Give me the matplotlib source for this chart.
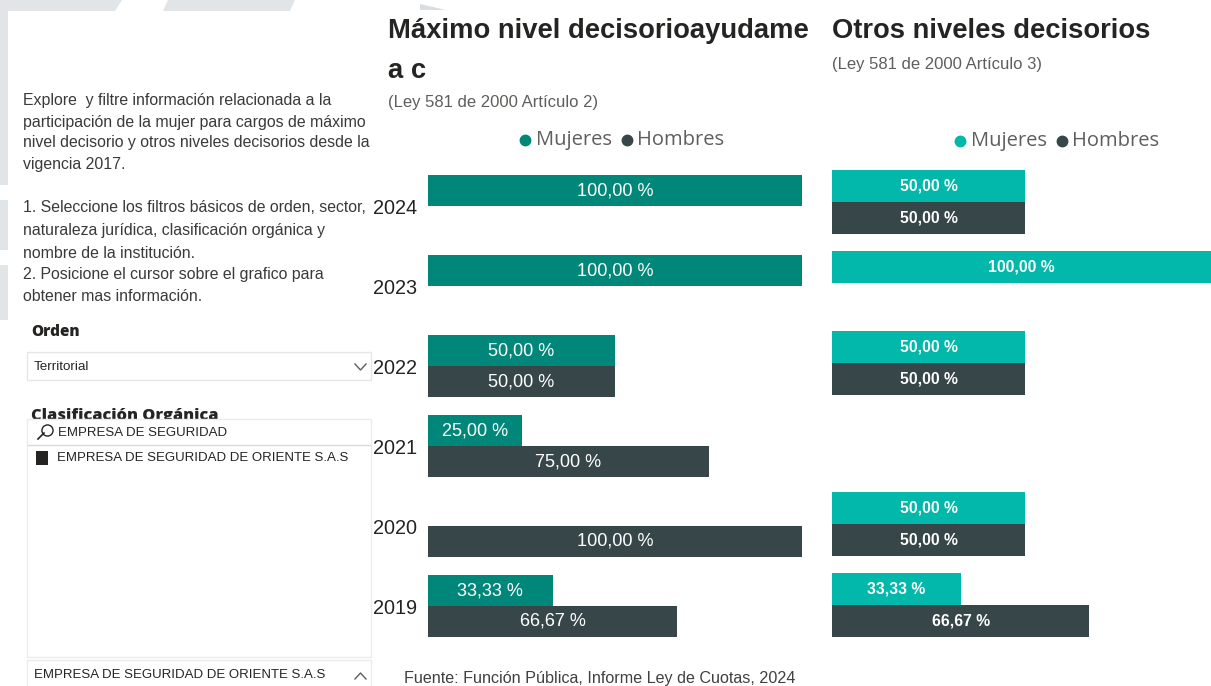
import matplotlib
matplotlib.use("Agg")
import matplotlib.pyplot as plt
from matplotlib.patches import Rectangle, Polygon
from matplotlib.lines import Line2D

W, H = 1211, 686

years = ["2024", "2023", "2022", "2021", "2020", "2019"]
max_mujeres = [100, 100, 50, 25, 0, 33.33]
max_hombres = [0, 0, 50, 75, 100, 66.67]
otros_mujeres = [50, 100, 50, 0, 50, 33.33]
otros_hombres = [50, 0, 50, 0, 50, 66.67]

teal_dark = "#01877A"
teal = "#01B8AA"
dark = "#374649"
txt = "#252423"
grey = "#605E5C"

ARIAL = ["Liberation Sans", "DejaVu Sans"]
SEGOE = ["Open Sans", "Noto Sans", "DejaVu Sans"]


def fx(x):
    return x / W


def fy(y):
    return 1 - y / H


def fmt(v):
    return f"{v:.2f}".replace(".", ",") + " %"


def dot(x, y, color, size, **kw):
    fig.lines.append(Line2D([fx(x)], [fy(y)], transform=fig.transFigure, marker="o",
                            markersize=size, color=color, linestyle="none", **kw))


fig = plt.figure(figsize=(W / 100, H / 100), dpi=100)
fig.patch.set_facecolor("white")

# background decoration (grey shapes behind the report canvas)
bg = "#E2E5E7"
for pts in [
    [(0, 0), (122, 0), (115, 11), (0, 11)],
    [(168, 0), (295, 0), (290, 11), (163, 11)],
    [(0, 0), (8, 0), (8, 185), (0, 185)],
    [(0, 200), (8, 200), (8, 250), (0, 250)],
    [(0, 265), (8, 265), (8, 320), (0, 320)],
]:
    fig.patches.append(Polygon([(fx(a), fy(b)) for a, b in pts], closed=True,
                               transform=fig.transFigure, facecolor=bg,
                               edgecolor="none", zorder=0))
fig.patches.append(Polygon([(fx(420), fy(4)), (fx(446), fy(10)), (fx(420), fy(10))],
                           closed=True, transform=fig.transFigure,
                           facecolor="#DADDDF", edgecolor="none", zorder=0))

# left description text
para = [
    (101, "Explore  y filtre información relacionada a la"),
    (122, "participación de la mujer para cargos de máximo"),
    (143, "nivel decisorio y otros niveles decisorios desde la"),
    (164, "vigencia 2017."),
    (208, "1. Seleccione los filtros básicos de orden, sector,"),
    (230, "naturaleza jurídica, clasificación orgánica y"),
    (253, "nombre de la institución."),
    (275, "2. Posicione el cursor sobre el grafico para"),
    (297, "obtener mas información."),
]
for y, s in para:
    fig.text(fx(23), fy(y), s, family=ARIAL, fontsize=11.4, color="#3B3A39",
             va="center", ha="left")

# slicers
fig.text(fx(31), fy(332), "Orden", family=SEGOE, fontsize=11, weight="heavy",
         color=txt, va="center")
fig.patches.append(Rectangle((fx(27), fy(380)), fx(344), 28 / H, transform=fig.transFigure,
                             facecolor="white", edgecolor="#E6E6E6", lw=1, zorder=1))
fig.text(fx(34), fy(367), "Territorial", family=ARIAL, fontsize=9.6, color=txt, va="center")
fig.lines.append(Line2D([fx(355), fx(360.5), fx(366)], [fy(364), fy(370), fy(364)],
                        transform=fig.transFigure, color="#605E5C", lw=1))

fig.text(fx(31), fy(420), "Clasificación Orgánica", family=SEGOE, fontsize=11.8,
         weight="heavy", color=txt, va="baseline", zorder=1)
fig.patches.append(Rectangle((fx(27), fy(657)), fx(344), 238 / H, transform=fig.transFigure,
                             facecolor="white", edgecolor="#EBEBEB", lw=1, zorder=2))
fig.lines.append(Line2D([fx(28), fx(370)], [fy(445), fy(445)], transform=fig.transFigure,
                        color="#DADADA", lw=1, zorder=3))
dot(47, 430, "none", 8, markeredgecolor=txt, markeredgewidth=1, zorder=3)
fig.lines.append(Line2D([fx(44), fx(38)], [fy(433), fy(439)], transform=fig.transFigure,
                        color=txt, lw=1.2, zorder=3))
fig.text(fx(58), fy(433), "EMPRESA DE SEGURIDAD", family=ARIAL, fontsize=9.5,
         color=txt, va="center", zorder=3)
fig.patches.append(Rectangle((fx(36), fy(465)), fx(12), 14 / H, transform=fig.transFigure,
                             facecolor=txt, edgecolor="none", zorder=3))
fig.text(fx(57), fy(458), "EMPRESA DE SEGURIDAD DE ORIENTE S.A.S", family=ARIAL,
         fontsize=9.5, color=txt, va="center", zorder=3)
fig.patches.append(Rectangle((fx(27), fy(690)), fx(344), 30 / H, transform=fig.transFigure,
                             facecolor="white", edgecolor="#EBEBEB", lw=1, zorder=2))
fig.text(fx(34), fy(675), "EMPRESA DE SEGURIDAD DE ORIENTE S.A.S", family=ARIAL,
         fontsize=9.5, color=txt, va="center", zorder=3)
fig.lines.append(Line2D([fx(355), fx(360.5), fx(366)], [fy(679), fy(673), fy(679)],
                        transform=fig.transFigure, color="#605E5C", lw=1, zorder=3))

# titles
fig.text(fx(388), fy(31), "Máximo nivel decisorioayudame", family=ARIAL, fontsize=19.7,
         weight="bold", color=txt, va="center")
fig.text(fx(388), fy(71), "a c", family=ARIAL, fontsize=19.7, weight="bold",
         color=txt, va="center")
fig.text(fx(388), fy(103), "(Ley 581 de 2000 Artículo 2)", family=ARIAL, fontsize=12,
         color=grey, va="center")
fig.text(fx(832), fy(31), "Otros niveles decisorios", family=ARIAL, fontsize=19.7,
         weight="bold", color=txt, va="center")
fig.text(fx(832), fy(64), "(Ley 581 de 2000 Artículo 3)", family=ARIAL, fontsize=12,
         color=grey, va="center")


def legend(x0, y, c_m):
    dot(x0, y, c_m, 7.5)
    fig.text(fx(x0 + 11), fy(y), "Mujeres", family=SEGOE, fontsize=14.5, color=grey,
             va="center")
    dot(x0 + 102, y, dark, 7.5)
    fig.text(fx(x0 + 112), fy(y), "Hombres", family=SEGOE, fontsize=14.5, color=grey,
             va="center")


legend(525, 140, teal_dark)
legend(960, 141, teal)


def bars(ax, muj, hom, c_m, h, label_kw):
    n = range(len(years))
    bm = ax.barh([i - h / 2 for i in n], muj, height=h, color=c_m)
    bh = ax.barh([i + h / 2 for i in n], hom, height=h, color=dark)
    for container, vals in ((bm, muj), (bh, hom)):
        labels = [fmt(v) if v > 0 else "" for v in vals]
        ax.bar_label(container, labels=labels, label_type="center", color="white",
                     **label_kw)
    for s in ax.spines.values():
        s.set_visible(False)
    ax.set_xticks([])


# left chart
axL = fig.add_axes([fx(428), fy(650), fx(374), 490 / H])
axL.set_facecolor("none")
bars(axL, max_mujeres, max_hombres, teal_dark, 31 / 80,
     dict(family=ARIAL, fontsize=13.1))
axL.set_xlim(0, 100)
axL.set_ylim((650 - 206) / 80, (160 - 206) / 80)
axL.set_yticks(range(len(years)))
axL.set_yticklabels(years, family=ARIAL, fontsize=14.3, color=txt)
axL.tick_params(axis="y", length=0, pad=8)

# right chart (100 % bar runs past the canvas edge)
axR = fig.add_axes([fx(832), fy(650), fx(379), 490 / H])
axR.set_facecolor("none")
bars(axR, otros_mujeres, otros_hombres, teal, 32 / 80.6,
     dict(family=ARIAL, fontsize=11.3, weight="bold"))
axR.set_xlim(0, 100 * 379 / 386)
axR.set_ylim((650 - 202) / 80.6, (160 - 202) / 80.6)
axR.set_yticks([])

fig.text(fx(404), fy(679), "Fuente: Función Pública, Informe Ley de Cuotas, 2024",
         family=ARIAL, fontsize=11.6, color="#404040", va="center")

fig.savefig("out.png", dpi=100)
